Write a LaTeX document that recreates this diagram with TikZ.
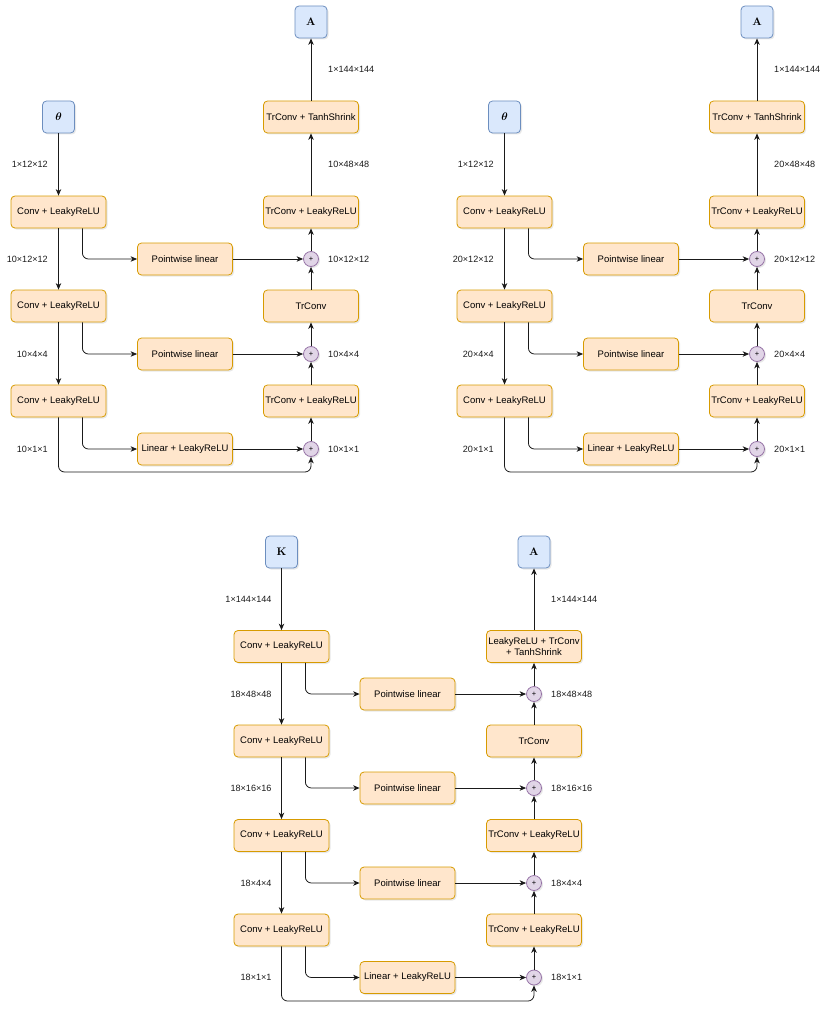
\documentclass[tikz,border=0pt]{standalone}
\usepackage{amsmath}
\usepackage{bm}
\usepackage[no-math]{fontspec}
\setmainfont{Liberation Sans}
\usetikzlibrary{arrows.meta,shadows,calc}
\definecolor{orgfill}{HTML}{FFE6CC}
\definecolor{orgdraw}{HTML}{D79B00}
\definecolor{bluefill}{HTML}{DAE8FC}
\definecolor{bluedraw}{HTML}{6C8EBF}
\definecolor{purpfill}{HTML}{E1D5E7}
\definecolor{purpdraw}{HTML}{9673A6}
\definecolor{linecol}{HTML}{1A1A1A}
\definecolor{labcol}{HTML}{1A1A1A}
\tikzset{
  shad/.style={drop shadow={opacity=0.18, shadow xshift=1.5pt, shadow yshift=-1.5pt}},
  box/.style={draw=orgdraw, fill=orgfill, rounded corners=4pt, minimum width=95pt,
    minimum height=32pt, inner sep=1pt, align=center, line width=0.8pt,
    font=\fontsize{9.5}{11.5}\selectfont, shad},
  io/.style={draw=bluedraw, fill=bluefill, rounded corners=4pt, minimum width=32pt,
    minimum height=32pt, inner sep=0pt, line width=0.8pt,
    font=\fontsize{10.6}{12.5}\selectfont, shad},
  sum/.style={circle, draw=purpdraw, fill=purpfill, minimum size=15pt, inner sep=0pt,
    line width=0.8pt, font=\fontsize{7.5}{8}\selectfont, shad},
  dim/.style={font=\fontsize{9.1}{11}\selectfont, text=labcol, inner sep=0pt},
  arr/.style={draw=linecol, line width=0.8pt, -{Stealth[length=6.5pt,width=5.5pt,inset=2pt]}},
}
\newcommand\toppanel[3]{%
\begin{scope}[shift={(#2,0)}, name prefix=#1-]
  \node[io] (in) at (58.5,117) {$\boldsymbol{\theta}$};
  \node[io] (out) at (311,22) {$\mathbf{A}$};
  \node[box] (c1) at (58.5,212) {Conv + LeakyReLU};
  \node[box] (c2) at (58.5,306) {Conv + LeakyReLU};
  \node[box] (c3) at (58.5,401) {Conv + LeakyReLU};
  \node[box] (t1) at (311,117) {TrConv + TanhShrink};
  \node[box] (t2) at (311,212) {TrConv + LeakyReLU};
  \node[box] (t3) at (311,306) {TrConv};
  \node[box] (t4) at (311,401) {TrConv + LeakyReLU};
  \node[box] (p1) at (185,259) {Pointwise linear};
  \node[box] (p2) at (185,354) {Pointwise linear};
  \node[box] (p3) at (185,449) {Linear + LeakyReLU};
  \node[sum] (s1) at (311,259) {+};
  \node[sum] (s2) at (311,354) {+};
  \node[sum] (s3) at (311,449) {+};
  \node[dim, anchor=east] (la) at (48,164) {1×12×12};
  \node[dim, anchor=east] (lb) at (48,259) {#3×12×12};
  \node[dim, anchor=east] (lc) at (48,354) {#3×4×4};
  \node[dim, anchor=east] (ld) at (48,449) {#3×1×1};
  \node[dim, anchor=west] (ra) at (328,69) {1×144×144};
  \node[dim, anchor=west] (rb) at (328,164) {#3×48×48};
  \node[dim, anchor=west] (rc) at (328,259) {#3×12×12};
  \node[dim, anchor=west] (rd) at (328,354) {#3×4×4};
  \node[dim, anchor=west] (re) at (328,449) {#3×1×1};
  \draw[arr] (in) -- (c1);
  \draw[arr] (c1) -- (c2);
  \draw[arr] (c2) -- (c3);
  \draw[arr, rounded corners=6pt] ([xshift=-24pt]c1.south east) |- (p1.west);
  \draw[arr, rounded corners=6pt] ([xshift=-24pt]c2.south east) |- (p2.west);
  \draw[arr, rounded corners=6pt] ([xshift=-24pt]c3.south east) |- (p3.west);
  \draw[arr, rounded corners=6pt] (c3.south) |- (311,472) -- (s3.south);
  \draw[arr] (p1) -- (s1);
  \draw[arr] (p2) -- (s2);
  \draw[arr] (p3) -- (s3);
  \draw[arr] (s3) -- (t4);
  \draw[arr] (t4) -- (s2);
  \draw[arr] (s2) -- (t3);
  \draw[arr] (t3) -- (s1);
  \draw[arr] (s1) -- (t2);
  \draw[arr] (t2) -- (t1);
  \draw[arr] (t1) -- (out);
\end{scope}}
\begin{document}
\begin{tikzpicture}[x=1pt, y=-1pt]
  \useasboundingbox (0,0) rectangle (830,1011);
  \toppanel{L}{0}{10}
  \toppanel{R}{446}{20}
  % bottom panel
  \node[io] (kin) at (281.5,552) {$\mathbf{K}$};
  \node[io] (kout) at (534,552) {$\mathbf{A}$};
  \node[box] (k1) at (281.5,646.5) {Conv + LeakyReLU};
  \node[box] (k2) at (281.5,741) {Conv + LeakyReLU};
  \node[box] (k3) at (281.5,835.5) {Conv + LeakyReLU};
  \node[box] (k4) at (281.5,930) {Conv + LeakyReLU};
  \node[box] (q1) at (534,646.5) {LeakyReLU + TrConv\\+ TanhShrink};
  \node[box] (q2) at (534,741) {TrConv};
  \node[box] (q3) at (534,835.5) {TrConv + LeakyReLU};
  \node[box] (q4) at (534,930) {TrConv + LeakyReLU};
  \node[box] (m1) at (407.5,694) {Pointwise linear};
  \node[box] (m2) at (407.5,788) {Pointwise linear};
  \node[box] (m3) at (407.5,883) {Pointwise linear};
  \node[box] (m4) at (407.5,977.5) {Linear + LeakyReLU};
  \node[sum] (u1) at (534,694) {+};
  \node[sum] (u2) at (534,788) {+};
  \node[sum] (u3) at (534,883) {+};
  \node[sum] (u4) at (534,977.5) {+};
  \node[dim, anchor=east] (kla) at (271.7,599) {1×144×144};
  \node[dim, anchor=east] (klb) at (271.7,694) {18×48×48};
  \node[dim, anchor=east] (klc) at (271.7,788) {18×16×16};
  \node[dim, anchor=east] (kld) at (271.7,883) {18×4×4};
  \node[dim, anchor=east] (kle) at (271.7,977.5) {18×1×1};
  \node[dim, anchor=west] (kra) at (551,599) {1×144×144};
  \node[dim, anchor=west] (krb) at (551,694) {18×48×48};
  \node[dim, anchor=west] (krc) at (551,788) {18×16×16};
  \node[dim, anchor=west] (krd) at (551,883) {18×4×4};
  \node[dim, anchor=west] (kre) at (551,977.5) {18×1×1};
  \draw[arr] (kin) -- (k1);
  \draw[arr] (k1) -- (k2);
  \draw[arr] (k2) -- (k3);
  \draw[arr] (k3) -- (k4);
  \draw[arr, rounded corners=6pt] ([xshift=-24pt]k1.south east) |- (m1.west);
  \draw[arr, rounded corners=6pt] ([xshift=-24pt]k2.south east) |- (m2.west);
  \draw[arr, rounded corners=6pt] ([xshift=-24pt]k3.south east) |- (m3.west);
  \draw[arr, rounded corners=6pt] ([xshift=-24pt]k4.south east) |- (m4.west);
  \draw[arr, rounded corners=6pt] (k4.south) |- (534,1001) -- (u4.south);
  \draw[arr] (m1) -- (u1);
  \draw[arr] (m2) -- (u2);
  \draw[arr] (m3) -- (u3);
  \draw[arr] (m4) -- (u4);
  \draw[arr] (u4) -- (q4);
  \draw[arr] (q4) -- (u3);
  \draw[arr] (u3) -- (q3);
  \draw[arr] (q3) -- (u2);
  \draw[arr] (u2) -- (q2);
  \draw[arr] (q2) -- (u1);
  \draw[arr] (u1) -- (q1);
  \draw[arr] (q1) -- (kout);
\end{tikzpicture}
\end{document}
